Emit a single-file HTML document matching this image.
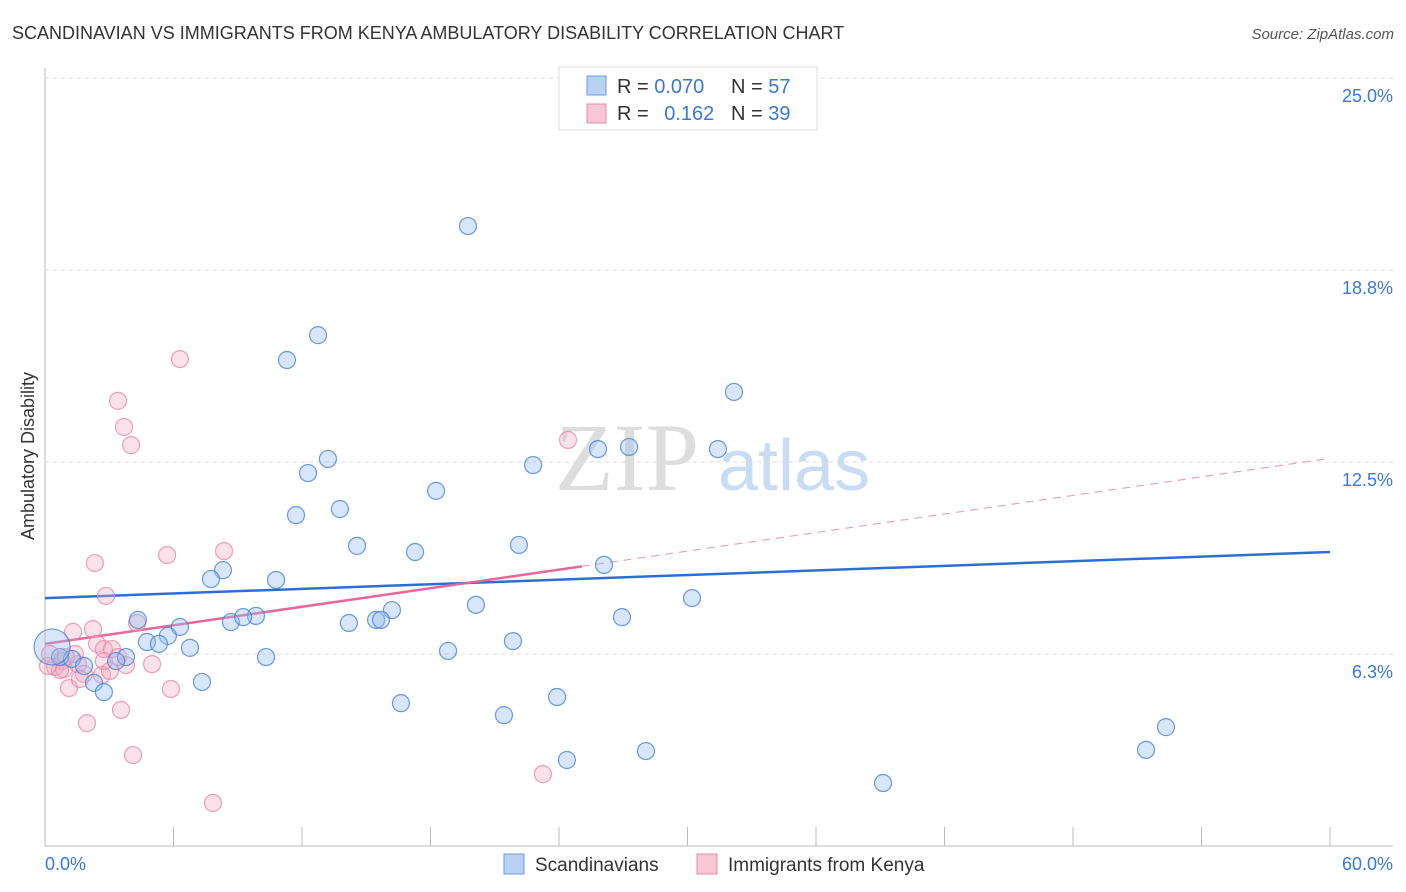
<!DOCTYPE html>
<html><head><meta charset="utf-8"><style>
body{margin:0;background:#fff;font-family:"Liberation Sans",sans-serif;}
svg{display:block}
</style></head><body>
<svg id="chart" width="1406" height="892">
<text x="12" y="39" font-size="18" fill="#333">SCANDINAVIAN VS IMMIGRANTS FROM KENYA AMBULATORY DISABILITY CORRELATION CHART</text>
<text x="1394" y="39" font-size="15" fill="#555" font-style="italic" text-anchor="end">Source: ZipAtlas.com</text>
<text x="34" y="456" font-size="18" fill="#333" text-anchor="middle" transform="rotate(-90 34 456)">Ambulatory Disability</text>
<g>
<text x="555" y="490" font-size="96" fill="#ddd" font-family="Liberation Serif,serif">ZIP</text>
<text x="718" y="490" font-size="72" fill="#c8dcf3">atlas</text>
</g>
<g id="grid"></g><g id="axes"></g><g id="lines"></g><g id="pts"></g>
<g>
<rect x="559" y="67" width="258" height="63" fill="#fff" stroke="#ddd"/>
<rect x="587" y="76" width="19" height="19" fill="#b9d2f4" stroke="#6a9be0"/>
<rect x="587" y="104" width="19" height="19" fill="#f8c6d4" stroke="#e98aa8"/>
<text x="617" y="93" font-size="20" fill="#333">R = <tspan fill="#3a78d6">0.070</tspan></text>
<text x="731" y="93" font-size="20" fill="#333">N = <tspan fill="#3a78d6">57</tspan></text>
<text x="617" y="120" font-size="20" fill="#333">R = <tspan fill="#3a78d6" dx="10">0.162</tspan></text>
<text x="731" y="120" font-size="20" fill="#333">N = <tspan fill="#3a78d6">39</tspan></text>
</g>
<g>
<rect x="504" y="854" width="20" height="20" fill="#b9d2f4" stroke="#6a9be0"/>
<text x="535" y="871" font-size="19" fill="#333">Scandinavians</text>
<rect x="697" y="854" width="20" height="20" fill="#f8c6d4" stroke="#e98aa8"/>
<text x="728" y="871" font-size="19" fill="#333">Immigrants from Kenya</text>
</g>
</svg>
<script>
const blueX=[27.87,19.75,12.75,11.30,32.17,13.21,12.28,27.27,25.82,31.42,22.79,18.26,11.72,13.77,14.57,17.28,22.13,26.10,8.31,7.75,10.79,30.21,20.12,16.20,4.34,26.94,14.19,15.46,15.69,8.68,9.85,9.25,6.30,5.74,4.76,5.32,6.77,21.85,18.82,10.32,3.78,3.32,0.70,1.26,1.82,2.29,2.75,7.33,23.91,16.62,21.43,52.34,51.41,28.06,24.37,39.13,0.33];
const blueY=[24.64,20.18,16.63,15.82,14.78,12.60,12.14,12.99,12.92,12.92,12.40,11.56,10.77,10.97,9.77,9.57,9.80,9.15,8.98,8.69,8.66,8.07,7.85,7.68,7.36,7.45,7.26,7.36,7.36,7.29,7.49,7.45,7.13,6.84,6.64,6.58,6.45,6.67,6.35,6.15,6.15,6.02,6.15,6.09,5.86,5.31,5.01,5.34,4.85,4.65,4.26,3.87,3.13,3.09,2.80,2.05,6.48];
const pinkX=[6.30,3.41,3.69,4.02,24.42,5.70,8.36,2.33,2.85,4.30,1.31,2.24,2.43,2.75,3.13,0.23,0.47,0.79,0.89,1.54,1.82,1.12,2.66,3.03,3.78,5.00,5.88,1.96,3.55,4.11,23.25,7.84,1.40,0.70,0.14,0.98,1.63,2.75,3.41];
const pinkY=[15.85,14.49,13.64,13.05,13.22,9.47,9.60,9.21,8.14,7.26,6.97,7.06,6.58,6.41,6.41,6.25,5.83,6.02,5.76,5.92,5.60,5.14,5.57,5.70,5.89,5.92,5.11,4.00,4.43,2.96,2.34,1.40,6.25,5.73,5.86,6.15,5.44,6.02,6.15];
const yTicks=[6.25,12.5,18.75,25];
const yTickLabels=["6.3%","12.5%","18.8%","25.0%"];
const xTicks=[0,6,12,18,24,30,36,42,48,54,60];
const blueTrend=[8.07,9.57];
const pinkTrend=[6.58,12.62];
const pinkSolidEnd=25.07;
const X=v=>45+v*1285/60, Y=v=>846-v*30.72;
const NS="http://www.w3.org/2000/svg";
function mk(p,tag,at){const e=document.createElementNS(NS,tag);for(const k in at)e.setAttribute(k,at[k]);p.appendChild(e);return e;}
const grid=document.getElementById('grid'),axes=document.getElementById('axes'),lines=document.getElementById('lines'),pts=document.getElementById('pts');
yTicks.forEach((t,i)=>{
 const l=mk(grid,'line',{x1:45,x2:1393,y1:Y(t),y2:Y(t),stroke:'#ddd','stroke-dasharray':'4 4'});
 
 
 const tx=mk(grid,'text',{x:1393,y:Y(t)+24,'font-size':18,fill:'#3a78d6','text-anchor':'end'});tx.textContent=yTickLabels[i];
 
 
});
mk(axes,'line',{x1:45,x2:45,y1:68,y2:846,stroke:'#bbb'});
mk(axes,'line',{x1:45,x2:1393,y1:846,y2:846,stroke:'#bbb'});
xTicks.forEach(t=>{const l=mk(axes,'line',{x1:X(t),x2:X(t),y1:827,y2:846,stroke:'#bbb'});
 
 });
let t1=mk(axes,'text',{x:45,y:870,'font-size':18,fill:'#3a78d6'});t1.textContent="0.0%";


let t2=mk(axes,'text',{x:1393,y:870,'font-size':18,fill:'#3a78d6','text-anchor':'end'});t2.textContent="60.0%";


pinkX.forEach((x,i)=>{const c=mk(pts,'circle',{cx:X(x),cy:Y(pinkY[i]),r:8.5,fill:'rgba(244,170,192,0.35)',stroke:'rgba(233,130,162,0.75)','stroke-width':1.2});
 
 });
blueX.forEach((x,i)=>{const c=mk(pts,'circle',{cx:X(x),cy:Y(blueY[i]),r:i==blueX.length-1?18:8.5,fill:'rgba(150,188,238,0.38)',stroke:'rgba(70,130,215,0.8)','stroke-width':1.2});
 
 });
const pAt=v=>pinkTrend[0]+(pinkTrend[1]-pinkTrend[0])*v/60;
let bl=mk(lines,'line',{x1:X(0),y1:Y(blueTrend[0]),x2:X(60),y2:Y(blueTrend[1]),stroke:'#2a6fd6','stroke-width':2.5});


let pl=mk(lines,'line',{x1:X(0),y1:Y(pAt(0)),x2:X(pinkSolidEnd),y2:Y(pAt(pinkSolidEnd)),stroke:'#e8679a','stroke-width':2.5});


let pd=mk(lines,'line',{x1:X(pinkSolidEnd),y1:Y(pAt(pinkSolidEnd)),x2:X(60),y2:Y(pAt(60)),stroke:'#e8a0b8','stroke-width':1.2,'stroke-dasharray':'8 6'});


</script>
</body></html>
